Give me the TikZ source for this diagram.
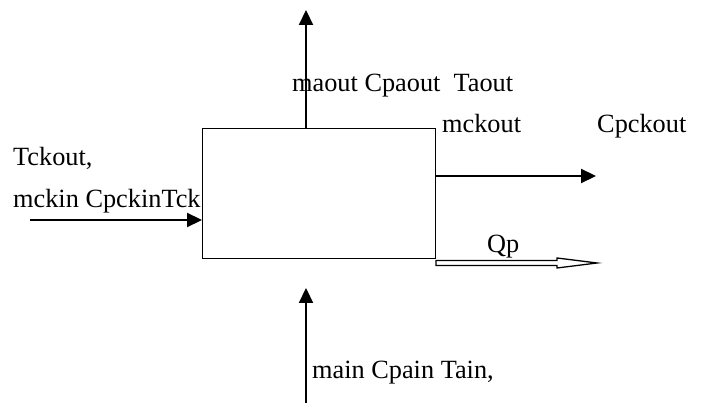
\documentclass[tikz,border=0pt]{standalone}
\usepackage{fontspec}
\setmainfont{Liberation Serif}
\usetikzlibrary{arrows.meta,calc}
\begin{document}
\begin{tikzpicture}[x=1pt,y=-1pt,
  flow/.style={line width=2.2pt,-{Triangle[length=15pt,width=14pt]}},
  lbl/.style={inner sep=0pt,anchor=base west,font=\fontsize{26.3pt}{31pt}\selectfont},
  blockbox/.style={draw,line width=1.4pt,minimum width=233pt,minimum height=130pt,inner sep=0pt,anchor=north west}]
\useasboundingbox (0,0) rectangle (704,403);
\node[blockbox] (box) at (202,128) {};
% coordinates for free ends
\coordinate (topend) at (306,10);
\coordinate (botstart) at (306,403);
\coordinate (bottip) at (306,288);
\coordinate (leftstart) at (30,220);
\coordinate (rightend) at (596,176);
\coordinate (qpstart) at (436,263);
% arrows
\draw[flow] (box.north -| topend) -- (topend);
\draw[flow] (botstart) -- (bottip);
\draw[flow] (leftstart) -- (box.west |- leftstart);
\draw[flow] (box.east |- rightend) -- (rightend);
% hollow Qp arrow
\draw[line width=1.3pt,line join=miter]
  ($(qpstart)+(0,-2.5)$) -- ++(121,0) -- ++(0,-2.5) -- ($(qpstart)+(161,0)$)
  -- ($(qpstart)+(121,5)$) -- ++(0,-2.5) -- ($(qpstart)+(0,2.5)$) -- cycle;
% labels
\node[lbl] (tmaout) at (292,92) {maout Cpaout\ \ Taout};
\node[lbl] (tmckout) at (442,133) {mckout};
\node[lbl] (tcpckout) at (597,133) {Cpckout};
\node[lbl] (ttckout) at (13,166) {Tckout,};
\node[lbl] (tmckin) at (13,208) {mckin CpckinTck};
\node[lbl] (tqp) at (487,253) {Qp};
\node[lbl] (tmain) at (312,378) {main Cpain Tain,};
\end{tikzpicture}
\end{document}
